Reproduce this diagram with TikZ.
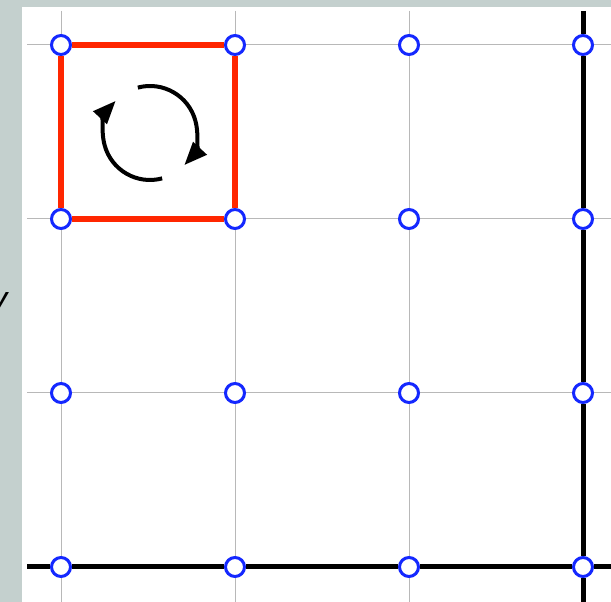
\documentclass[tikz,border=0pt]{standalone}
\usepackage{fontspec}
\usetikzlibrary{arrows.meta}
\newfontfamily\axisfont{Liberation Sans}
\definecolor{panelgrey}{RGB}{196,208,206}
\definecolor{siteblue}{RGB}{20,40,255}
\definecolor{plaqred}{RGB}{255,38,0}
\begin{document}
\begin{tikzpicture}[x=1pt,y=1pt,
  site/.style={circle,draw=siteblue,line width=3pt,fill=white,minimum size=19pt,inner sep=0pt},
  gridline/.style={black!28,line width=1pt},
  boundary/.style={line width=5pt},
  plaquette/.style={plaqred,line width=6pt},
  circulation/.style={line width=4pt,-{Triangle[length=23pt,width=18pt]}}]
\fill[panelgrey] (0,0) rectangle (611,602);
\fill[white] (22,0) rectangle (611,595);
\useasboundingbox (0,0) rectangle (611,602);
\node[font=\axisfont\itshape\fontsize{34}{38}\selectfont,anchor=base] (ylab) at (-1,291) {y};
% grid
\foreach \k in {0,...,3} {
  \draw[gridline] (61+174*\k,591) -- (61+174*\k,0);
  \draw[gridline] (27,557-174*\k) -- (611,557-174*\k);
}
\foreach \i in {0,...,3}
  \foreach \j in {0,...,3}
    \node[site] (s\i\j) at (61+174*\i,557-174*\j) {};
% edges
\coordinate (btop) at (583,591);
\coordinate (bbot) at (583,0);
\coordinate (lend) at (27,35);
\coordinate (rend) at (611,35);
\draw[boundary] (btop) -- (s30) -- (s31) -- (s32) -- (s33) -- (bbot);
\draw[boundary] (lend) -- (s03) -- (s13) -- (s23) -- (s33) -- (rend);
\draw[plaquette] (s00) -- (s10) -- (s11) -- (s01) -- (s00);
% circulation
\coordinate (c) at (150,469);
\draw[circulation] (c) ++(105:47) arc[start angle=105,end angle=-43,radius=47];
\draw[circulation] (c) ++(-75:47) arc[start angle=-75,end angle=-223,radius=47];
\end{tikzpicture}
\end{document}
